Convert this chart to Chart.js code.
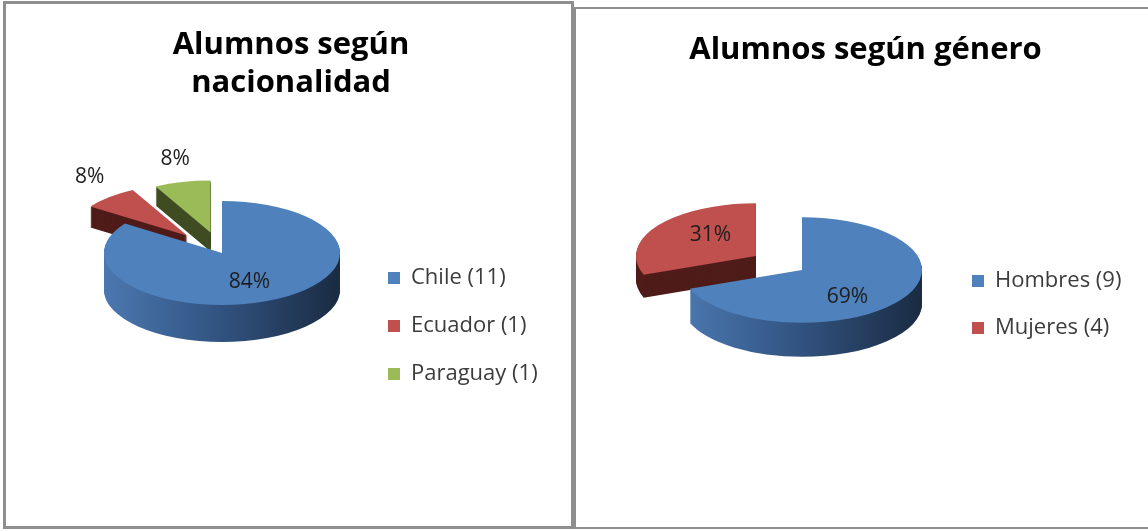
<!DOCTYPE html>
<html><head><meta charset="utf-8">
<script src="https://cdn.jsdelivr.net/npm/chart.js@4/dist/chart.umd.min.js"></script>
<style>
html,body{margin:0;padding:0;background:#fff;width:1148px;height:531px;overflow:hidden;}
.panel{position:absolute;box-sizing:border-box;background:#fff;}
#p1{left:3px;top:1px;width:571px;height:528px;border:3px solid #8e8e8e;}
#p2{left:574px;top:7px;width:576px;height:522px;border:2px solid #8e8e8e;}
canvas{display:block;}
</style></head><body>
<div class="panel" id="p1"><canvas id="c1" width="565" height="522"></canvas></div>
<div class="panel" id="p2"><canvas id="c2" width="572" height="518"></canvas></div>
<script>
// ---- data ----
const nacionalidadCategorias = ['Chile', 'Ecuador', 'Paraguay'];
const nacionalidadAlumnos = [11, 1, 1];
const nacionalidadPorcentajes = [84, 8, 8];
const generoCategorias = ['Hombres', 'Mujeres'];
const generoAlumnos = [9, 4];
const generoPorcentajes = [69, 31];

// ---- 3D pie rendering plugin (uses the library's arc geometry) ----
const pie3d = {
  id: 'pie3d',
  afterLayout(chart) {
    // let legend text extend past the legend box instead of being clipped
    const l = chart.legend;
    if (l) { l.right = chart.width; l.width = l.right - l.left; }
  },
  beforeDatasetsDraw(chart, args, opts) {
    const ctx = chart.ctx;
    const meta = chart.getDatasetMeta(0);
    const ds = chart.data.datasets[0];
    const k = opts.tilt;
    const total = ds.data.reduce((a, b) => a + b, 0);
    const explode = i => (ds.explode && ds.explode[i]) || 0;
    const geom = (arc, i) => {
      const p = arc.getProps(['x', 'y', 'startAngle', 'endAngle', 'outerRadius']);
      const mid = (p.startAngle + p.endAngle) / 2;
      const e = explode(i);
      return {cx: p.x + Math.cos(mid) * e, cy: p.y - opts.lift + Math.sin(mid) * e * k,
              r: p.outerRadius, s: p.startAngle, en: p.endAngle, mid};
    };
    const items = meta.data.map((arc, i) => ({arc, i, g: geom(arc, i)}));
    const order = items.slice().sort((a, b) => Math.sin(a.g.mid) - Math.sin(b.g.mid));
    const path = (g, dy) => {
      ctx.beginPath();
      ctx.moveTo(g.cx, g.cy + dy);
      ctx.ellipse(g.cx, g.cy + dy, g.r, g.r * k, 0, g.s, g.en);
      ctx.closePath();
    };
    ctx.save();
    for (const a of order) {
      const g = a.g;
      const d = Math.round(opts.depth * (0.75 + 0.25 * Math.sin(g.mid)));
      const stops = opts.sideColors[a.i];
      let fill;
      if (stops.length > 1) {
        fill = ctx.createLinearGradient(g.cx - g.r, 0, g.cx + g.r, 0);
        stops.forEach((c, j) => fill.addColorStop(j / (stops.length - 1), c));
      } else fill = stops[0];
      ctx.fillStyle = fill;
      for (let s = d; s >= 1; s--) { path(g, s); ctx.fill(); }
      ctx.fillStyle = a.arc.options.backgroundColor;
      path(g, 0); ctx.fill();
    }
    ctx.font = opts.labelFont;
    ctx.fillStyle = opts.labelColor;
    ctx.textAlign = 'center';
    ctx.textBaseline = 'middle';
    for (const a of items) {
      const g = a.g;
      const out = ds.data[a.i] / total < 0.1;
      const L = out ? opts.outside : opts.inside;
      const x = g.cx + Math.cos(g.mid) * L.radius * g.r;
      const y = g.cy + Math.sin(g.mid) * L.radius * g.r * L.tilt + L.shift;
      ctx.fillText(opts.percentages[a.i] + '%', x, y);
    }
    ctx.restore();
    return false;
  }
};

const titleFont = {family: '"Open Sans"', size: 31, weight: 'bold', lineHeight: 1.2};
const legendFont = {family: '"Open Sans"', size: 22};
const blueSide = ['#4b78b0', '#31527f', '#1a2b42'];

new Chart(document.getElementById('c1'), {
  type: 'pie',
  plugins: [pie3d],
  data: {
    labels: nacionalidadCategorias.map((c, i) => `${c} (${nacionalidadAlumnos[i]})`),
    datasets: [{
      data: nacionalidadAlumnos,
      backgroundColor: ['#4F81BD', '#C0504D', '#9BBB59'],
      borderWidth: 0, borderColor: 'rgba(0,0,0,0)',
      radius: 118,
      explode: [0, 52, 48]
    }]
  },
  options: {
    responsive: false, animation: false,
    layout: {padding: {left: 76, right: 71, top: 0, bottom: 115}},
    plugins: {
      title: {display: true, text: ['Alumnos según', 'nacionalidad'], color: '#000', font: titleFont,
              padding: {top: 23, bottom: 29.6}},
      legend: {position: 'right', align: 'end', maxWidth: 138,
               labels: {boxWidth: 12, boxHeight: 12, padding: 26, color: '#3c3c3c', font: legendFont}},
      tooltip: {enabled: false},
      pie3d: {tilt: 0.44, depth: 38, lift: 18, sideColors: [blueSide, ['#4f1c1a'], ['#3f4c22']],
              percentages: nacionalidadPorcentajes, labelFont: '21px "Open Sans"', labelColor: '#1e1e1e',
              inside: {radius: 0.5, tilt: 0.44, shift: 6},
              outside: {radius: 1.25, tilt: 0.44, shift: -10}}
    }
  }
});

new Chart(document.getElementById('c2'), {
  type: 'pie',
  plugins: [pie3d],
  data: {
    labels: generoCategorias.map((c, i) => `${c} (${generoAlumnos[i]})`),
    datasets: [{
      data: generoAlumnos,
      backgroundColor: ['#4F81BD', '#C0504D'],
      borderWidth: 0, borderColor: 'rgba(0,0,0,0)',
      radius: 120,
      explode: [0, 56]
    }]
  },
  options: {
    responsive: false, animation: false,
    layout: {padding: {left: 81, right: 74, top: 0, bottom: 163}},
    plugins: {
      title: {display: true, text: 'Alumnos según género', color: '#000', font: titleFont,
              padding: {top: 23, bottom: 142.8}},
      legend: {position: 'right', align: 'end', maxWidth: 127,
               labels: {boxWidth: 12, boxHeight: 12, padding: 25, color: '#3c3c3c', font: legendFont}},
      tooltip: {enabled: false},
      pie3d: {tilt: 0.44, depth: 38, lift: 18, sideColors: [blueSide, ['#4f1c1a']],
              percentages: generoPorcentajes, labelFont: '21px "Open Sans"', labelColor: '#1e1e1e',
              inside: {radius: 0.46, tilt: 0.75, shift: 3},
              outside: {radius: 1.3, tilt: 0.44, shift: -10}}
    }
  }
});
</script>
</body></html>
